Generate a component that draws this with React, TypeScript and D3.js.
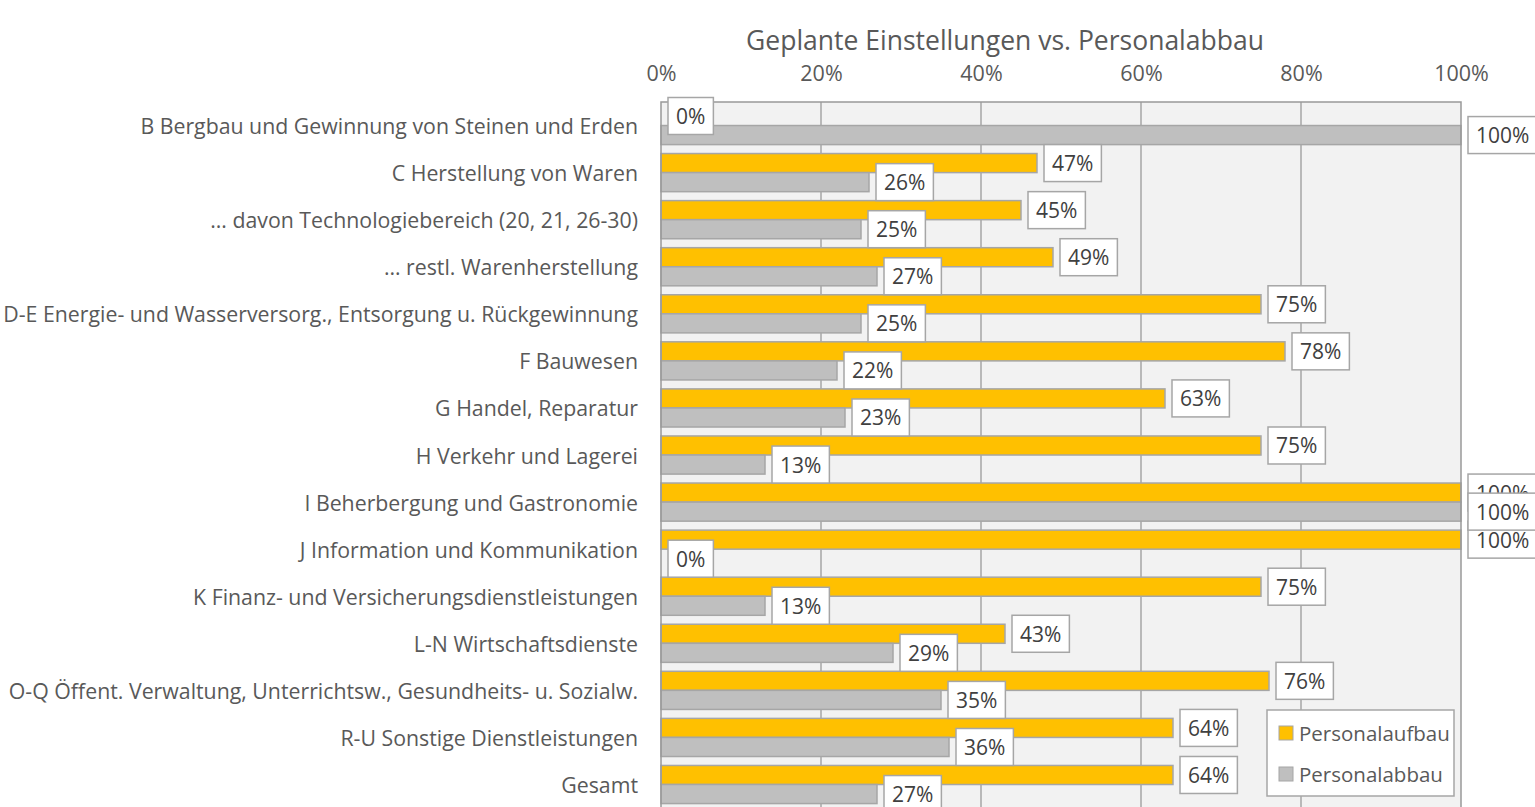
import { useEffect, useRef } from "react";
import * as d3 from "d3";

const title = "Geplante Einstellungen vs. Personalabbau";

const categories = [
  "B Bergbau und Gewinnung von Steinen und Erden",
  "C Herstellung von Waren",
  "… davon Technologiebereich (20, 21, 26-30)",
  "… restl. Warenherstellung",
  "D-E Energie- und Wasserversorg., Entsorgung u. Rückgewinnung",
  "F Bauwesen",
  "G Handel, Reparatur",
  "H Verkehr und Lagerei",
  "I Beherbergung und Gastronomie",
  "J Information und Kommunikation",
  "K Finanz- und Versicherungsdienstleistungen",
  "L-N Wirtschaftsdienste",
  "O-Q Öffent. Verwaltung, Unterrichtsw., Gesundheits- u. Sozialw.",
  "R-U Sonstige Dienstleistungen",
  "Gesamt",
];

const personalaufbau = [0, 47, 45, 49, 75, 78, 63, 75, 100, 100, 75, 43, 76, 64, 64];
const personalabbau = [100, 26, 25, 27, 25, 22, 23, 13, 100, 0, 13, 29, 35, 36, 27];

const seriesNames = ["Personalaufbau", "Personalabbau"];
const seriesColors = ["#ffc000", "#bfbfbf"];
const tickValues = [0, 20, 40, 60, 80, 100];

export default function App() {
  const ref = useRef<SVGSVGElement>(null);

  useEffect(() => {
    document.body.style.margin = "0";
    const width = 1535;
    const height = 807;
    const font = "'Open Sans', sans-serif";
    const textColor = "#595959";
    const lineColor = "#a6a6a6";
    const plot = { left: 661, right: 1461, top: 102 };
    const step = 47.07;

    const svg = d3.select(ref.current).attr("width", width).attr("height", height);
    svg.selectAll("*").remove();

    const x = d3.scaleLinear().domain([0, 100]).range([plot.left, plot.right]);
    const y = d3
      .scaleBand<string>()
      .domain(categories)
      .range([plot.top, plot.top + step * categories.length])
      .paddingInner(0.19)
      .paddingOuter(0.095);
    const sub = d3.scaleBand<string>().domain(seriesNames).range([0, y.bandwidth()]);
    const bottom = plot.top + step * categories.length;

    // title
    svg
      .append("text")
      .attr("x", 1005)
      .attr("y", 40)
      .attr("text-anchor", "middle")
      .attr("dominant-baseline", "central")
      .attr("font-family", font)
      .attr("font-size", 26.5)
      .attr("fill", textColor)
      .text(title);

    // plot area
    svg
      .append("rect")
      .attr("x", plot.left)
      .attr("y", plot.top)
      .attr("width", plot.right - plot.left)
      .attr("height", bottom - plot.top)
      .attr("fill", "#f2f2f2");

    svg
      .append("g")
      .selectAll("line")
      .data(tickValues.slice(1, -1))
      .join("line")
      .attr("x1", (d) => x(d))
      .attr("x2", (d) => x(d))
      .attr("y1", plot.top)
      .attr("y2", bottom)
      .attr("stroke", lineColor)
      .attr("stroke-width", 1.5);

    // axis at top
    const axis = svg
      .append("g")
      .attr("transform", `translate(0,${plot.top})`)
      .call(
        d3
          .axisTop(x)
          .tickValues(tickValues)
          .tickSize(0)
          .tickPadding(21)
          .tickFormat((d) => `${d}%`)
      );
    axis.select(".domain").remove();
    axis
      .selectAll("text")
      .attr("font-family", font)
      .attr("font-size", 21.5)
      .attr("fill", textColor);

    // category labels
    svg
      .append("g")
      .selectAll("text")
      .data(categories)
      .join("text")
      .attr("x", 638)
      .attr("y", (d) => (y(d) ?? 0) + y.bandwidth() / 2)
      .attr("text-anchor", "end")
      .attr("dominant-baseline", "central")
      .attr("font-family", font)
      .attr("font-size", 21.3)
      .attr("fill", textColor)
      .text((d) => d);

    const series = [personalaufbau, personalabbau];

    // bars
    series.forEach((values, si) => {
      svg
        .append("g")
        .selectAll("rect")
        .data(values.map((v, i) => ({ v, c: categories[i] })).filter((d) => d.v > 0))
        .join("rect")
        .attr("x", x(0))
        .attr("y", (d) => (y(d.c) ?? 0) + (sub(seriesNames[si]) ?? 0))
        .attr("width", (d) => x(d.v) - x(0))
        .attr("height", sub.bandwidth())
        .attr("fill", seriesColors[si])
        .attr("stroke", lineColor)
        .attr("stroke-width", 1.5);
    });

    // plot border
    svg
      .append("rect")
      .attr("x", plot.left)
      .attr("y", plot.top)
      .attr("width", plot.right - plot.left)
      .attr("height", bottom - plot.top)
      .attr("fill", "none")
      .attr("stroke", "#999999")
      .attr("stroke-width", 1.5);

    // data labels
    series.forEach((values, si) => {
      values.forEach((v, i) => {
        const cy = (y(categories[i]) ?? 0) + (sub(seriesNames[si]) ?? 0) + sub.bandwidth() / 2;
        const bx = x(v) + 7;
        const g = svg.append("g");
        const box = g.append("rect");
        const t = g
          .append("text")
          .attr("x", bx + 8)
          .attr("y", cy)
          .attr("dominant-baseline", "central")
          .attr("font-family", font)
          .attr("font-size", 21)
          .attr("fill", "#404040")
          .text(`${v}%`);
        const tw = (t.node() as SVGTextElement).getComputedTextLength();
        box
          .attr("x", bx)
          .attr("y", cy - 18.5)
          .attr("width", tw + 16)
          .attr("height", 37)
          .attr("fill", "#ffffff")
          .attr("stroke", lineColor)
          .attr("stroke-width", 1.5);
      });
    });

    // legend
    const legend = svg.append("g").attr("transform", "translate(1267,710)");
    legend
      .append("rect")
      .attr("width", 187)
      .attr("height", 86)
      .attr("fill", "#ffffff")
      .attr("stroke", lineColor)
      .attr("stroke-width", 1.5);
    seriesNames.forEach((name, i) => {
      const cy = 23 + i * 41;
      legend
        .append("rect")
        .attr("x", 12)
        .attr("y", cy - 7)
        .attr("width", 14)
        .attr("height", 14)
        .attr("fill", seriesColors[i])
        .attr("stroke", lineColor)
        .attr("stroke-width", 1);
      legend
        .append("text")
        .attr("x", 32)
        .attr("y", cy)
        .attr("dominant-baseline", "central")
        .attr("font-family", font)
        .attr("font-size", 20.5)
        .attr("fill", textColor)
        .text(name);
    });
  }, []);

  return <svg ref={ref} style={{ display: "block" }} />;
}
